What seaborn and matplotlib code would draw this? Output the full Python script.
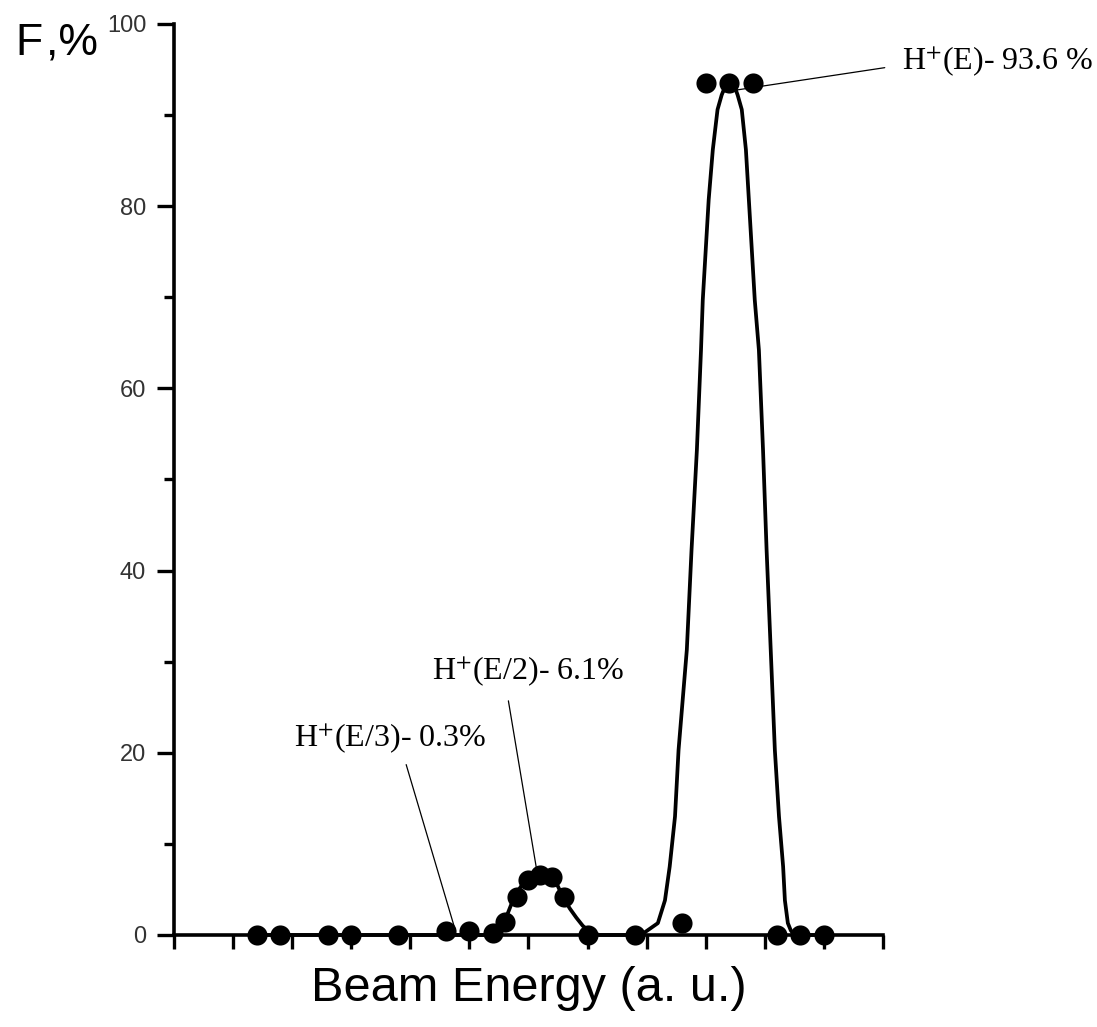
import matplotlib
matplotlib.use("Agg")
import matplotlib.pyplot as plt
import seaborn as sns

# measured points (beam energy in tick units, fraction in %)
energy = [1.4, 1.8, 2.6, 3.0, 3.8, 4.6, 5.0, 5.4, 5.6, 5.8, 6.0, 6.2, 6.4, 6.6,
          7.0, 7.8, 8.6, 9.0, 9.4, 9.8, 10.2, 10.6, 11.0]
fraction = [0, 0, 0, 0, 0, 0.4, 0.4, 0.2, 1.4, 4.2, 6.0, 6.6, 6.4, 4.2,
            0, 0, 1.3, 93.5, 93.5, 93.5, 0, 0, 0]

# fitted curve
fit_x = [1.4, 5.30, 5.45, 5.59, 5.76, 5.87, 5.97, 6.07, 6.19, 6.29, 6.39, 6.48, 6.58, 6.70,
         6.81, 6.92, 7.05, 7.2,
         7.85, 7.97, 8.08, 8.19, 8.31, 8.39, 8.48, 8.54, 8.68, 8.76, 8.85, 8.92,
         8.95, 9.0, 9.05, 9.12, 9.20, 9.27, 9.32, 9.36, 9.42, 9.48, 9.54, 9.61, 9.68,
         9.73, 9.78, 9.83, 9.90, 9.97, 10.03, 10.10, 10.17, 10.24, 10.31, 10.34, 10.39,
         10.44, 10.48, 10.54, 11.0]
fit_y = [0, 0, 0.4, 1.4, 4.2, 5.3, 6.0, 6.4, 6.6, 6.6, 6.4, 5.6, 4.2, 2.9,
         1.9, 1.0, 0.3, 0,
         0, 0.3, 0.8, 1.3, 3.8, 7.5, 13.0, 20.3, 31.3, 42.3, 53.2, 64.2,
         69.7, 75.2, 80.7, 86.2, 90.6, 92.2, 93.0, 93.4, 93.5, 93.3, 92.2, 90.6, 86.2,
         80.7, 75.2, 69.7, 64.2, 53.2, 42.3, 31.3, 20.3, 13.0, 7.5, 3.8, 1.3,
         0.5, 0.15, 0, 0]

x_ticks = list(range(0, 13))
y_major = [0, 20, 40, 60, 80, 100]
y_minor = [10, 30, 50, 70, 90]

sns.set_style("ticks")
plt.rcParams["font.family"] = ["Liberation Sans", "DejaVu Sans"]
plt.rcParams["mathtext.fontset"] = "stix"
plt.rcParams["text.color"] = "black"
plt.rcParams["axes.labelcolor"] = "black"

fig = plt.figure(figsize=(10.97, 10.27), dpi=100)
ax = fig.add_axes([0.1586, 0.0896, 0.6463, 0.8871])

sns.lineplot(x=fit_x, y=fit_y, sort=False, estimator=None, color="black",
             linewidth=2.7, ax=ax, clip_on=False, zorder=3,
             solid_joinstyle="round")
sns.scatterplot(x=energy, y=fraction, color="black", s=210, marker="o",
                edgecolor="black", linewidth=0, ax=ax, clip_on=False, zorder=4)

ax.set_xlim(0, 12)
ax.set_ylim(0, 100)
ax.set_xticks(x_ticks)
ax.set_yticks(y_major)
ax.set_yticks(y_minor, minor=True)
ax.set_yticklabels([str(v) for v in y_major])
ax.tick_params(axis="x", length=10, width=2.4, direction="out", labelbottom=False,
               color="black")
ax.tick_params(axis="y", which="major", length=12, width=2.4, direction="out",
               labelsize=17, labelcolor="#333333", pad=8, color="black")
ax.tick_params(axis="y", which="minor", length=7, width=2.4, direction="out",
               color="black")
sns.despine(ax=ax)
for side in ["left", "bottom"]:
    ax.spines[side].set_linewidth(2.6)
    ax.spines[side].set_color("black")

ax.set_xlabel("Beam Energy (a. u.)", fontsize=35, labelpad=12)
ax.set_ylabel("")
# axis title "F,%" in the top-left corner, comma set slightly apart
fig.text(15 / 1097, 1 - 55 / 1027, "F", fontsize=32, ha="left", va="baseline")
fig.text(46 / 1097, 1 - 55 / 1027, ",%", fontsize=32, ha="left", va="baseline")

serif = dict(fontsize=23, family="Liberation Serif", va="center", ha="left")
line = dict(arrowstyle="-", color="black", lw=0.9, shrinkA=0, shrinkB=0)
ax.annotate("", xy=(9.27, 92.5), xytext=(12.03, 95.2), arrowprops=line,
            annotation_clip=False)
ax.text(12.32, 95.8, r"H$^{+}$(E)- 93.6 %", clip_on=False, **serif)
ax.annotate("", xy=(6.14, 7.1), xytext=(5.66, 25.7), arrowprops=line)
ax.text(4.37, 28.9, r"H$^{+}$(E/2)- 6.1%", **serif)
ax.annotate("", xy=(4.76, 0.55), xytext=(3.93, 18.7), arrowprops=line)
ax.text(2.03, 21.5, r"H$^{+}$(E/3)- 0.3%", **serif)

fig.savefig("out.png", dpi=100)
